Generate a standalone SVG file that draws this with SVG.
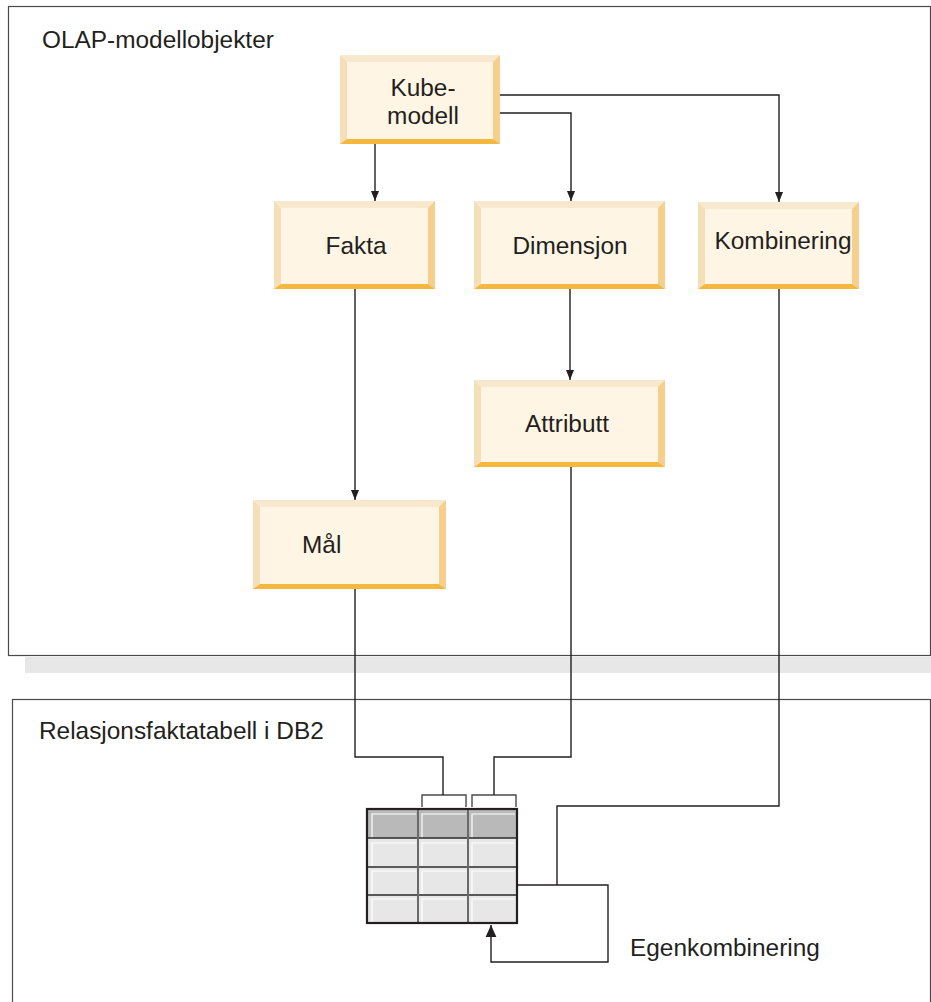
<svg xmlns="http://www.w3.org/2000/svg" width="931" height="1002" viewBox="0 0 931 1002">
<defs>
<style>
.t{font-family:"Liberation Sans",Arial,sans-serif;font-size:24.4px;fill:#231f20}
.lbl{font-family:"Liberation Sans",Arial,sans-serif;font-size:24.4px;fill:#231f20}
.c{fill:none;stroke:#231f20;stroke-width:1.4}
.top{fill:#f8e8ce}.lf{fill:#f5dfb9}.rt{fill:#f5cf8b}.bt{fill:#f3b83d}.in{fill:#fff5e4}
</style>
<marker id="ah" viewBox="0 0 10 10" refX="10" refY="5" markerWidth="10" markerHeight="10" markerUnits="userSpaceOnUse" orient="auto">
<path d="M0,1 L10,5 L0,9 Z" fill="#231f20"/>
</marker>
<marker id="ah2" viewBox="0 0 10 10" refX="10" refY="5" markerWidth="12" markerHeight="12" markerUnits="userSpaceOnUse" orient="auto">
<path d="M0,0.5 L10,5 L0,9.5 Z" fill="#231f20"/>
</marker>
</defs>
<rect width="931" height="1002" fill="#ffffff"/>
<g id="frame-olap">
<rect x="8.5" y="6.5" width="922" height="649" fill="none" stroke="#4a4a4a" stroke-width="1.2"/>
<rect x="25" y="657" width="906" height="16" fill="#e6e7e6"/>
<text class="lbl" x="42" y="48">OLAP-modellobjekter</text>
</g>
<g id="frame-db2">
<rect x="12.5" y="699.5" width="918" height="310" fill="none" stroke="#4a4a4a" stroke-width="1.2"/>
<text class="lbl" x="39" y="739">Relasjonsfaktatabell i DB2</text>
</g>
<g id="kubemodell">
<rect class="top" x="340" y="55" width="160" height="89"/>
<polygon class="lf" points="340,55 347,62 347,139 340,144"/>
<polygon class="rt" points="500,55 493,62 493,139 500,144"/>
<polygon class="bt" points="340,144 347,139 493,139 500,144"/>
<rect class="in" x="347" y="62" width="146" height="77"/>
<text class="t" x="423" y="96" text-anchor="middle">Kube-</text>
<text class="t" x="423" y="124" text-anchor="middle">modell</text>
</g>
<g id="fakta">
<rect class="top" x="274" y="201" width="161" height="88"/>
<polygon class="lf" points="274,201 281,208 281,284 274,289"/>
<polygon class="rt" points="435,201 428,208 428,284 435,289"/>
<polygon class="bt" points="274,289 281,284 428,284 435,289"/>
<rect class="in" x="281" y="208" width="147" height="76"/>
<text class="t" x="356" y="254" text-anchor="middle">Fakta</text>
</g>
<g id="dimensjon">
<rect class="top" x="474" y="201" width="191" height="88"/>
<polygon class="lf" points="474,201 481,208 481,284 474,289"/>
<polygon class="rt" points="665,201 658,208 658,284 665,289"/>
<polygon class="bt" points="474,289 481,284 658,284 665,289"/>
<rect class="in" x="481" y="208" width="177" height="76"/>
<text class="t" x="570" y="254" text-anchor="middle">Dimensjon</text>
</g>
<g id="kombinering">
<rect class="top" x="698" y="202" width="161" height="87"/>
<polygon class="lf" points="698,202 705,209 705,284 698,289"/>
<polygon class="rt" points="859,202 852,209 852,284 859,289"/>
<polygon class="bt" points="698,289 705,284 852,284 859,289"/>
<rect class="in" x="705" y="209" width="147" height="75"/>
<text class="t" x="783" y="249" text-anchor="middle">Kombinering</text>
</g>
<g id="attributt">
<rect class="top" x="474" y="380" width="191" height="87"/>
<polygon class="lf" points="474,380 481,387 481,462 474,467"/>
<polygon class="rt" points="665,380 658,387 658,462 665,467"/>
<polygon class="bt" points="474,467 481,462 658,462 665,467"/>
<rect class="in" x="481" y="387" width="177" height="75"/>
<text class="t" x="567" y="432" text-anchor="middle">Attributt</text>
</g>
<g id="maal">
<rect class="top" x="253" y="500" width="193" height="89"/>
<polygon class="lf" points="253,500 260,507 260,584 253,589"/>
<polygon class="rt" points="446,500 439,507 439,584 446,589"/>
<polygon class="bt" points="253,589 260,584 439,584 446,589"/>
<rect class="in" x="260" y="507" width="179" height="77"/>
<text class="t" x="302" y="553">Mål</text>
</g>
<g id="faktatabell">
<rect x="367" y="809" width="150" height="29" fill="#b9b9b9"/>
<rect x="367" y="838" width="150" height="85" fill="#e6e7e6"/>
<g stroke="#ffffff" stroke-width="1.2" fill="none">
<path d="M372,838 V814 H416 M422,838 V814 H466 M472,838 V814 H515"/>
<path d="M372,866 V843 H416 M422,866 V843 H466 M472,866 V843 H515"/>
<path d="M372,894 V871 H416 M422,894 V871 H466 M472,894 V871 H515"/>
<path d="M372,922 V899 H416 M422,922 V899 H466 M472,922 V899 H515"/>
</g>
<g stroke="#2a2a2a" stroke-width="1.3">
<line x1="367" y1="838" x2="517" y2="838"/>
<line x1="367" y1="867" x2="517" y2="867"/>
<line x1="367" y1="895" x2="517" y2="895"/>
</g>
<g stroke="#6a6a6a" stroke-width="2">
<line x1="418" y1="809" x2="418" y2="923"/>
<line x1="468" y1="809" x2="468" y2="923"/>
</g>
<rect x="367" y="809" width="150" height="114" fill="none" stroke="#231f20" stroke-width="2.2"/>
<path d="M422,807 V795 H466 V807 M472,807 V795 H516 V807" fill="none" stroke="#4a4a4a" stroke-width="1.4"/>
</g>
<g id="egenkombinering-label">
<text class="lbl" x="630" y="956">Egenkombinering</text>
</g>
<g id="connectors">
<path class="c" d="M375,144 V201" marker-end="url(#ah)"/>
<path class="c" d="M500,113 H571 V201" marker-end="url(#ah)"/>
<path class="c" d="M500,95 H779 V202" marker-end="url(#ah)"/>
<path class="c" d="M355,289 V500" marker-end="url(#ah)"/>
<path class="c" d="M570,289 V380" marker-end="url(#ah)"/>
<path class="c" d="M355,589 V757 H443 V795"/>
<path class="c" d="M571,467 V757 H494 V795"/>
<path class="c" d="M779,289 V806 H557 V885"/>
<path class="c" d="M517,885 H608 V962 H491 V925" marker-end="url(#ah2)"/>
</g>
</svg>
